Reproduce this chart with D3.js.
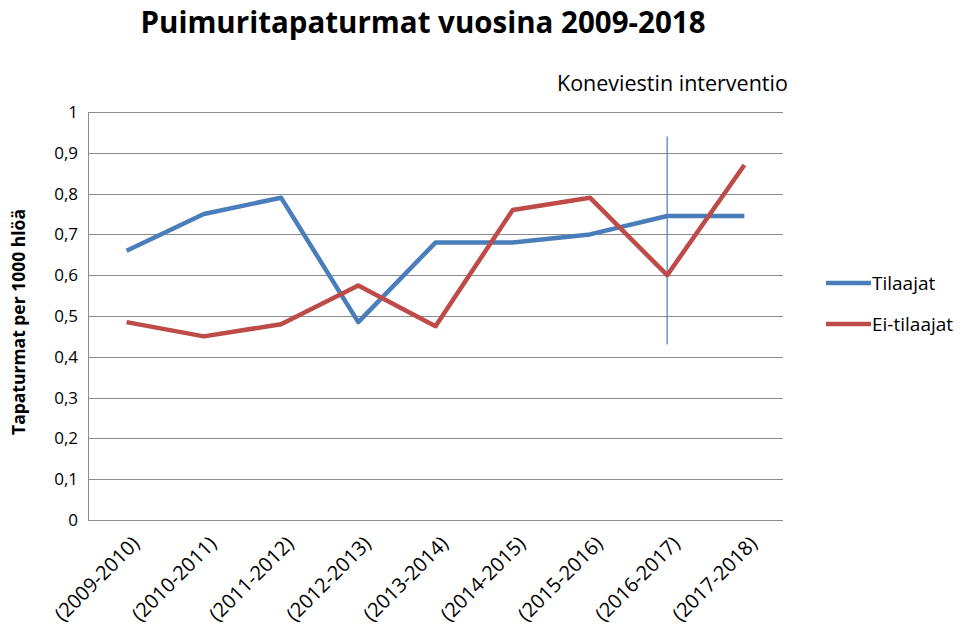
<!DOCTYPE html>
<html>
<head>
<meta charset="utf-8">
<title>Puimuritapaturmat</title>
<style>
  body { margin: 0; background: #fff; font-family: "Open Sans", "Noto Sans", sans-serif; }
</style>
</head>
<body>
<script src="https://cdn.jsdelivr.net/npm/d3@7"></script>
<script>
// data
var seasons = ["(2009-2010)", "(2010-2011)", "(2011-2012)", "(2012-2013)", "(2013-2014)",
               "(2014-2015)", "(2015-2016)", "(2016-2017)", "(2017-2018)"];
var tilaajat   = [0.66, 0.75, 0.79, 0.485, 0.68, 0.68, 0.70, 0.745, 0.745];
var eiTilaajat = [0.485, 0.45, 0.48, 0.575, 0.475, 0.76, 0.79, 0.60, 0.87];
var yTicks = [0, 0.1, 0.2, 0.3, 0.4, 0.5, 0.6, 0.7, 0.8, 0.9, 1];
var interventionSeason = "(2016-2017)";
var interventionRange = [0.43, 0.94];

var series = [
  { name: "Tilaajat", values: tilaajat, color: "#4a7ebb" },
  { name: "Ei-tilaajat", values: eiTilaajat, color: "#be4b48" }
];

var width = 961, height = 630;
var plotLeft = 88, plotRight = 783, plotTop = 112, plotBottom = 520;

var svg = d3.select("body").append("svg")
  .attr("width", width)
  .attr("height", height);

var x = d3.scaleBand().domain(seasons).range([plotLeft, plotRight]);
var y = d3.scaleLinear().domain([0, 1]).range([plotBottom, plotTop]);

// grid lines
svg.append("g").selectAll("line")
  .data(yTicks)
  .enter().append("line")
    .attr("x1", plotLeft).attr("x2", plotRight)
    .attr("y1", function(d) { return Math.round(y(d)) + 0.5; })
    .attr("y2", function(d) { return Math.round(y(d)) + 0.5; })
    .attr("stroke", "#8c8c8c")
    .attr("stroke-width", 1);

// left axis line
svg.append("line")
  .attr("x1", plotLeft + 0.5).attr("x2", plotLeft + 0.5)
  .attr("y1", y(1)).attr("y2", y(0))
  .attr("stroke", "#8c8c8c");

// y tick labels
svg.append("g").selectAll("text")
  .data(yTicks)
  .enter().append("text")
    .attr("x", plotLeft - 10)
    .attr("y", function(d) { return y(d); })
    .attr("dy", "0.35em")
    .attr("text-anchor", "end")
    .attr("font-size", 17)
    .attr("fill", "#000")
    .text(function(d) { return d3.format(".1~f")(d).replace(".", ","); });

// x tick labels, rotated
svg.append("g").selectAll("text")
  .data(seasons)
  .enter().append("text")
    .attr("transform", function(d) {
      return "translate(" + (x(d) + x.bandwidth() / 2 + 9) + "," + (plotBottom + 20) + ") rotate(-45)";
    })
    .attr("text-anchor", "end")
    .attr("dy", "0.35em")
    .attr("font-size", 20)
    .attr("fill", "#000")
    .text(function(d) { return d; });

// intervention marker
svg.append("line")
  .attr("x1", x(interventionSeason) + x.bandwidth() / 2)
  .attr("x2", x(interventionSeason) + x.bandwidth() / 2)
  .attr("y1", y(interventionRange[1]))
  .attr("y2", y(interventionRange[0]))
  .attr("stroke", "#4a7ebb")
  .attr("stroke-width", 1.2);

svg.append("text")
  .attr("x", 557)
  .attr("y", 91)
  .attr("font-size", 21.5)
  .attr("fill", "#000")
  .text("Koneviestin interventio");

// lines
var line = d3.line()
  .x(function(d, i) { return x(seasons[i]) + x.bandwidth() / 2; })
  .y(function(d) { return y(d); });

svg.append("g").selectAll("path")
  .data(series)
  .enter().append("path")
    .attr("d", function(d) { return line(d.values); })
    .attr("fill", "none")
    .attr("stroke", function(d) { return d.color; })
    .attr("stroke-width", 4.5)
    .attr("stroke-linejoin", "round");

// title
svg.append("text")
  .attr("x", 423)
  .attr("y", 33)
  .attr("text-anchor", "middle")
  .attr("font-size", 29.5)
  .attr("font-weight", "bold")
  .attr("fill", "#000")
  .text("Puimuritapaturmat vuosina 2009-2018");

// y axis title
svg.append("text")
  .attr("transform", "translate(25," + (y(0.5) + 6) + ") rotate(-90)")
  .attr("text-anchor", "middle")
  .attr("font-size", 17.5)
  .attr("font-weight", "bold")
  .attr("fill", "#000")
  .text("Tapaturmat per 1000 hlöä");

// legend
var legend = svg.append("g").selectAll("g")
  .data(series)
  .enter().append("g")
    .attr("transform", function(d, i) { return "translate(826," + (283 + i * 41) + ")"; });

legend.append("line")
  .attr("x1", 0).attr("x2", 45)
  .attr("stroke", function(d) { return d.color; })
  .attr("stroke-width", 4.5);

legend.append("text")
  .attr("x", 46)
  .attr("dy", "0.35em")
  .attr("font-size", 19)
  .attr("fill", "#000")
  .text(function(d) { return d.name; });
</script>
</body>
</html>
